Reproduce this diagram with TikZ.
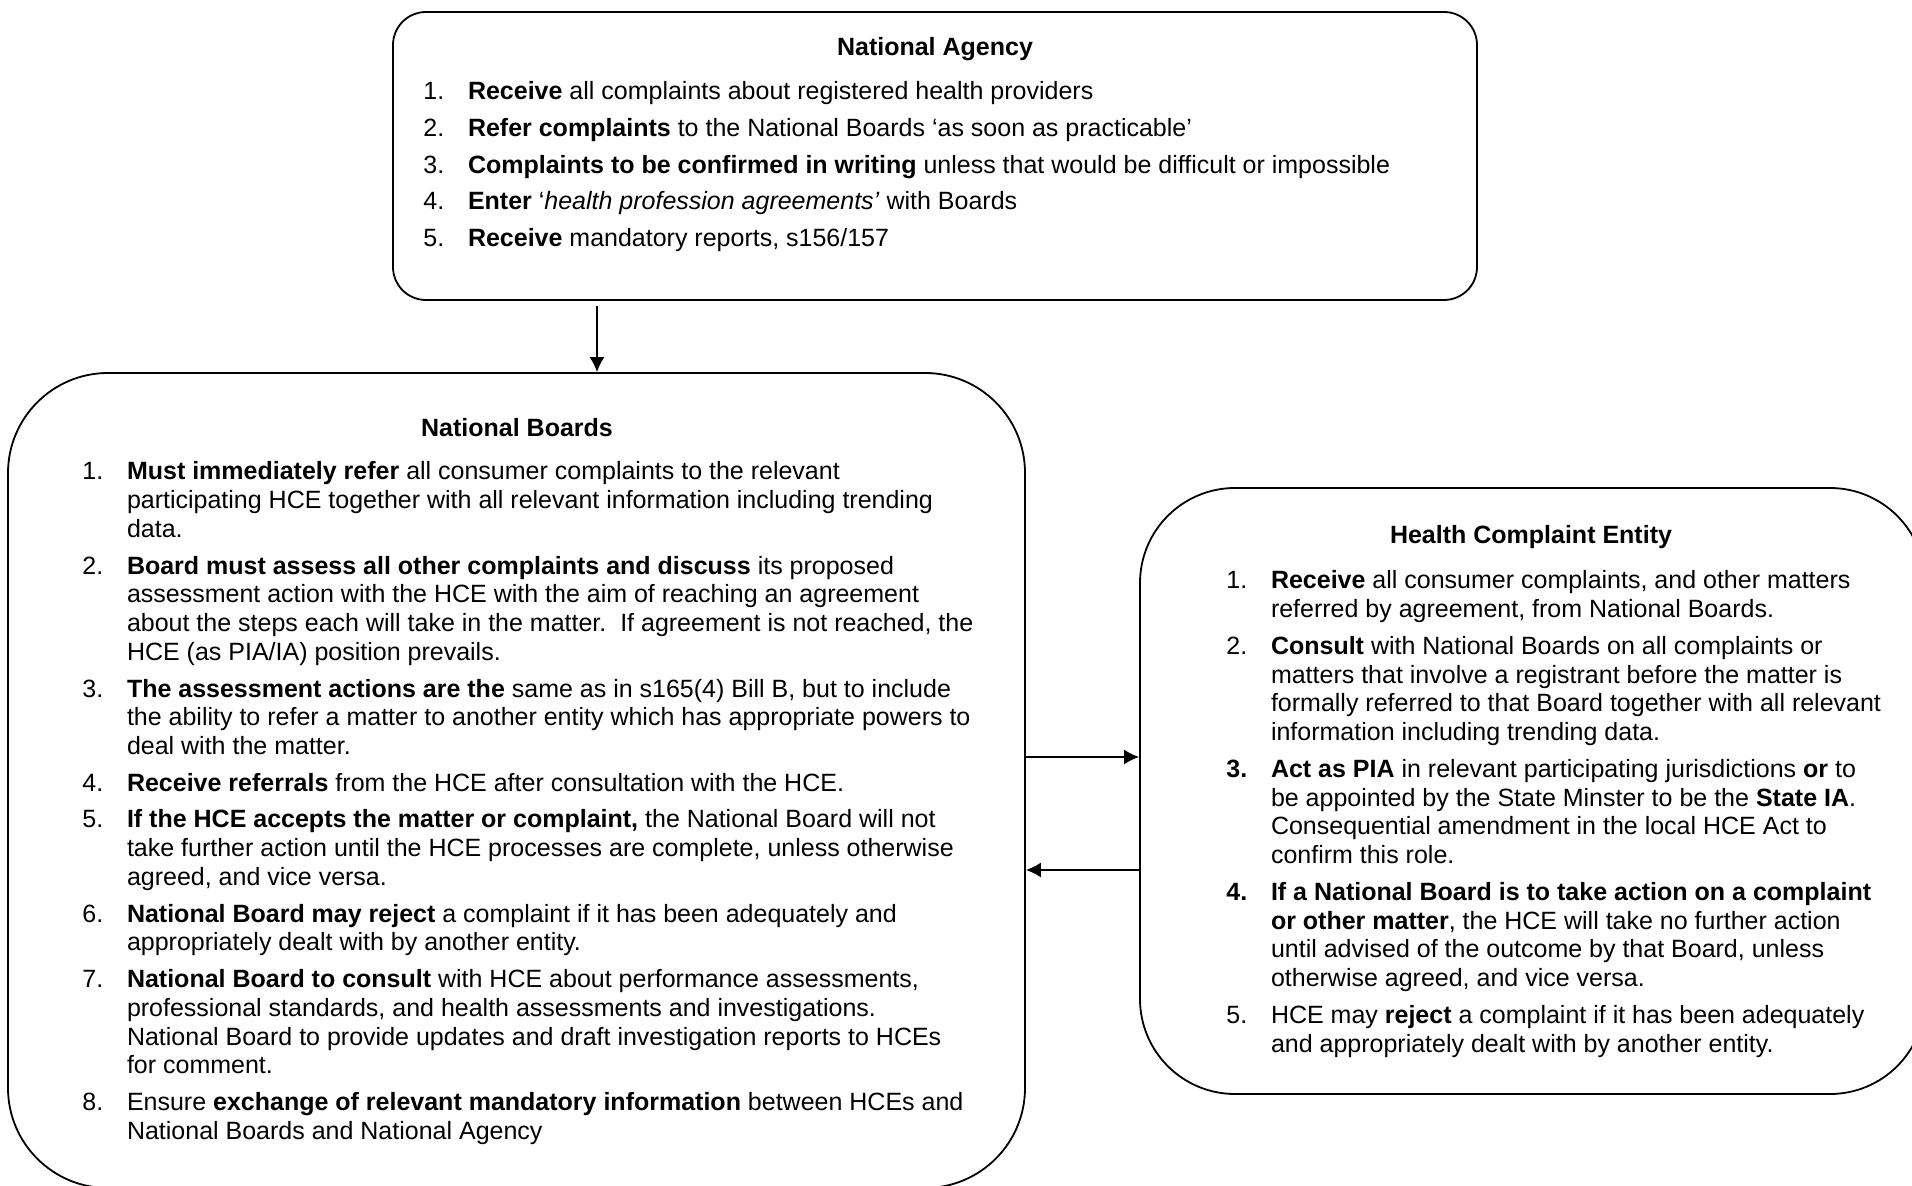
\documentclass[tikz,border=0pt]{standalone}
\usepackage{fontspec}
\setmainfont{Liberation Sans}
\usepackage{tikz}
\usetikzlibrary{arrows.meta}

\newcommand{\listfont}{\fontsize{12.5pt}{14.4pt}\selectfont}
\newcommand{\sepitem}{\\[3.9pt]}

\tikzset{
  panel/.style={draw, line width=0.9pt, rounded corners=#1, inner sep=0pt},
  heading/.style={anchor=base, font=\listfont\bfseries, inner sep=0pt},
  points/.style={anchor=base west, font=\listfont, inner sep=0pt},
  flow/.style={line width=0.85pt, -{Latex[length=7.5pt,width=7.5pt]}}
}

\begin{document}
\begin{tikzpicture}[x=0.5pt, y=-0.5pt]
	\useasboundingbox (0,0) rectangle (1912,1186);

	% Boxes
	\node[panel=16.5pt, minimum width=542pt, minimum height=144pt] (agency) at (935,156) {};
	\node[panel=50pt, minimum width=508.5pt, minimum height=407.5pt] (boards) at (516.5,780.5) {};
	\node[panel=47.5pt, minimum width=392.5pt, minimum height=303pt] (hce) at (1532.5,791) {};

	% National Agency
	\node[heading] (agencytitle) at (935,56) {National Agency};
	\node[points] (agencylist) at (423,100) {%
	\begin{tabular}[t]{@{}p{22.3pt}@{}l@{}}
	1. & \textbf{Receive} all complaints about registered health providers\sepitem
	2. & \textbf{Refer complaints} to the National Boards `as soon as practicable'\sepitem
	3. & \textbf{Complaints to be confirmed in writing} unless that would be difficult or impossible\sepitem
	4. & \textbf{Enter} `\textit{health profession agreements'} with Boards\sepitem
	5. & \textbf{Receive} mandatory reports, s156/157
	\end{tabular}};

	% National Boards
	\node[heading] (boardstitle) at (517,437) {National Boards};
	\node[points] (boardslist) at (82,480) {%
	\begin{tabular}[t]{@{}p{22.3pt}@{}l@{}}
	1. & \textbf{Must immediately refer} all consumer complaints to the relevant\\
	   & participating HCE together with all relevant information including trending\\
	   & data.\sepitem
	2. & \textbf{Board must assess all other complaints and discuss} its proposed\\
	   & assessment action with the HCE with the aim of reaching an agreement\\
	   & about the steps each will take in the matter.\ \ If agreement is not reached, the\\
	   & HCE (as PIA/IA) position prevails.\sepitem
	3. & \textbf{The assessment actions are the} same as in s165(4) Bill B, but to include\\
	   & the ability to refer a matter to another entity which has appropriate powers to\\
	   & deal with the matter.\sepitem
	4. & \textbf{Receive referrals} from the HCE after consultation with the HCE.\sepitem
	5. & \textbf{If the HCE accepts the matter or complaint,} the National Board will not\\
	   & take further action until the HCE processes are complete, unless otherwise\\
	   & agreed, and vice versa.\sepitem
	6. & \textbf{National Board may reject} a complaint if it has been adequately and\\
	   & appropriately dealt with by another entity.\sepitem
	7. & \textbf{National Board to consult} with HCE about performance assessments,\\
	   & professional standards, and health assessments and investigations.\\
	   & National Board to provide updates and draft investigation reports to HCEs\\
	   & for comment.\sepitem
	8. & Ensure \textbf{exchange of relevant mandatory information} between HCEs and\\
	   & National Boards and National Agency
	\end{tabular}};

	% Health Complaint Entity
	\node[heading] (hcetitle) at (1531,544) {Health Complaint Entity};
	\node[points] (hcelist) at (1226,589) {%
	\begin{tabular}[t]{@{}p{22.3pt}@{}l@{}}
	1. & \textbf{Receive} all consumer complaints, and other matters\\
	   & referred by agreement, from National Boards.\sepitem
	2. & \textbf{Consult} with National Boards on all complaints or\\
	   & matters that involve a registrant before the matter is\\
	   & formally referred to that Board together with all relevant\\
	   & information including trending data.\sepitem
	\textbf{3.} & \textbf{Act as PIA} in relevant participating jurisdictions \textbf{or} to\\
	   & be appointed by the State Minster to be the \textbf{State IA}.\\
	   & Consequential amendment in the local HCE Act to\\
	   & confirm this role.\sepitem
	\textbf{4.} & \textbf{If a National Board is to take action on a complaint}\\
	   & \textbf{or other matter}, the HCE will take no further action\\
	   & until advised of the outcome by that Board, unless\\
	   & otherwise agreed, and vice versa.\sepitem
	5. & HCE may \textbf{reject} a complaint if it has been adequately\\
	   & and appropriately dealt with by another entity.
	\end{tabular}};

	% Arrows
	\coordinate (drop) at (597,0);
	\coordinate (fwd) at (0,757);
	\coordinate (back) at (0,870);
	\draw[flow] ([yshift=-2.5pt]agency.south -| drop) -- (boards.north -| drop);
	\draw[flow] (boards.east |- fwd) -- (hce.west |- fwd);
	\draw[flow] (hce.west |- back) -- (boards.east |- back);

\end{tikzpicture}
\end{document}
